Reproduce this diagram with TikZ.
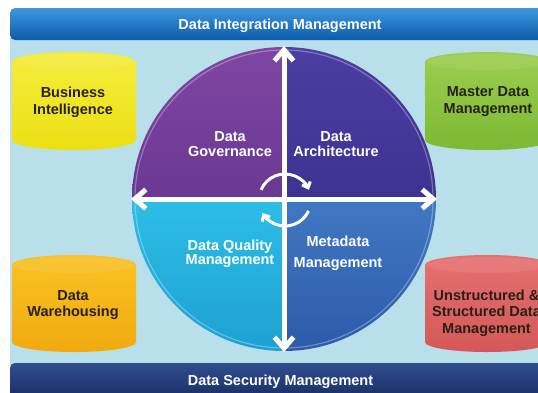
\documentclass[tikz,border=0pt]{standalone}
\usepackage{fontspec}
\setmainfont{Liberation Sans}
\usetikzlibrary{arrows.meta}
\definecolor{panel}{RGB}{184,223,234}
\definecolor{barTop}{RGB}{62,152,222}
\definecolor{barBot}{RGB}{12,90,170}
\definecolor{navyTop}{RGB}{48,78,142}
\definecolor{navyBot}{RGB}{18,35,90}
\definecolor{qTLa}{RGB}{126,70,162}
\definecolor{qTLb}{RGB}{106,56,146}
\definecolor{qTRa}{RGB}{76,62,162}
\definecolor{qTRb}{RGB}{62,50,145}
\definecolor{qBLa}{RGB}{45,190,230}
\definecolor{qBLb}{RGB}{30,160,210}
\definecolor{qBRa}{RGB}{65,120,195}
\definecolor{qBRb}{RGB}{45,90,170}
\definecolor{yelA}{RGB}{244,236,60}
\definecolor{yelB}{RGB}{236,224,20}
\definecolor{grnA}{RGB}{155,206,80}
\definecolor{grnB}{RGB}{125,185,50}
\definecolor{orgA}{RGB}{250,194,36}
\definecolor{orgB}{RGB}{240,170,15}
\definecolor{redA}{RGB}{230,112,112}
\definecolor{redB}{RGB}{212,88,88}
\definecolor{cyltxt}{RGB}{40,32,20}
\newcommand{\mycyl}[6]{%
  \shade[top color=#5, bottom color=#6]
    (#1,#2+10) arc[start angle=180,end angle=360,x radius={(#3-#1)/2},y radius=10]
    -- (#3,#4-10) arc[start angle=0,end angle=180,x radius={(#3-#1)/2},y radius=10] -- cycle;
  \fill[white,opacity=0.08] ({(#1+#3)/2},#2+10) ellipse[x radius={(#3-#1)/2-2},y radius=8];
}
\begin{document}
\begin{tikzpicture}[x=1pt,y=-1pt,
  lbl/.style={align=center, inner sep=0pt},
  bartext/.style={lbl,text=white,font=\bfseries\fontsize{14.5}{17}\selectfont},
  qtext/.style={lbl,text=white},
  cyltext/.style={lbl,text=cyltxt},
  cross/.style={white,line width=5pt,{Straight Barb[length=11pt,width=19pt]}-{Straight Barb[length=11pt,width=19pt]}},
  swirl/.style={white,line width=3pt,-{Straight Barb[length=5pt,width=9pt]}}]
\useasboundingbox (0,0) rectangle (538,392);
\clip (0,0) rectangle (538,392);
\fill[white] (0,0) rectangle (538,392);
\fill[panel] (10,38) rectangle (540,366);
\shade[top color=barTop,bottom color=barBot,rounded corners=5pt] (10,8) rectangle (560,40);
\shade[top color=navyTop,bottom color=navyBot,rounded corners=5pt] (10,363) rectangle (560,410);
\node[bartext] (tbar) at (280,25.8) {Data Integration Management};
\node[bartext] (bbar) at (280.5,381.3) {Data Security Management};
% circle quadrants
\coordinate (C) at (284,199);
\shade[top color=qTLa,bottom color=qTLb] (C) -- ++(-152,0) arc[start angle=180,end angle=270,radius=152] -- cycle;
\shade[top color=qTRa,bottom color=qTRb] (C) -- ++(0,-152) arc[start angle=270,end angle=360,radius=152] -- cycle;
\shade[top color=qBRa,bottom color=qBRb] (C) -- ++(152,0) arc[start angle=0,end angle=90,radius=152] -- cycle;
\shade[top color=qBLa,bottom color=qBLb] (C) -- ++(0,152) arc[start angle=90,end angle=180,radius=152] -- cycle;
\draw[white,opacity=0.3,line width=1.2pt] (C) circle[radius=149];
% cross arrows
\coordinate (ctop) at (284,46);
\coordinate (cbot) at (284,352);
\coordinate (cleft) at (131,199);
\coordinate (cright) at (437,199);
\draw[cross] (cbot) -- (ctop);
\draw[cross] (cleft) -- (cright);
% centre swirl
\coordinate (S) at (285,200);
\draw[swirl] ([shift={(-157:26)}]S) arc[start angle=-157,end angle=-23,radius=26];
\draw[swirl] ([shift={(25:26)}]S) arc[start angle=25,end angle=150,radius=26];
% cylinders
\mycyl{12}{52}{136}{150}{yelA}{yelB}
\mycyl{425}{52}{549}{150}{grnA}{grnB}
\mycyl{12}{255}{136}{352}{orgA}{orgB}
\mycyl{425}{255}{549}{352}{redA}{redB}
\node[cyltext,font=\bfseries\fontsize{14.5}{17}\selectfont] (bi) at (73,102.3) {Business\\Intelligence};
\node[cyltext,font=\bfseries\fontsize{14.5}{17}\selectfont] (mdm) at (488,102) {Master Data\\Management};
\node[cyltext,font=\bfseries\fontsize{14.5}{16.7}\selectfont] (dw) at (73,305) {Data\\Warehousing};
\node[cyltext,font=\bfseries\fontsize{14.5}{16.7}\selectfont] (usdm) at (486.5,313) {Unstructured \&\\Structured Data\\Management};
% quadrant labels
\node[qtext,font=\bfseries\fontsize{14.5}{15}\selectfont] (gov) at (230,143.6) {Data\\Governance};
\node[qtext,font=\bfseries\fontsize{14.5}{15}\selectfont] (arch) at (336,143.6) {Data\\Architecture};
\node[qtext,font=\bfseries\fontsize{14.5}{14}\selectfont] (dqm) at (230,253.5) {Data Quality\\Management};
\node[qtext,font=\bfseries\fontsize{14.5}{20.3}\selectfont] (meta) at (338,253.3) {Metadata\\Management};
\end{tikzpicture}
\end{document}
